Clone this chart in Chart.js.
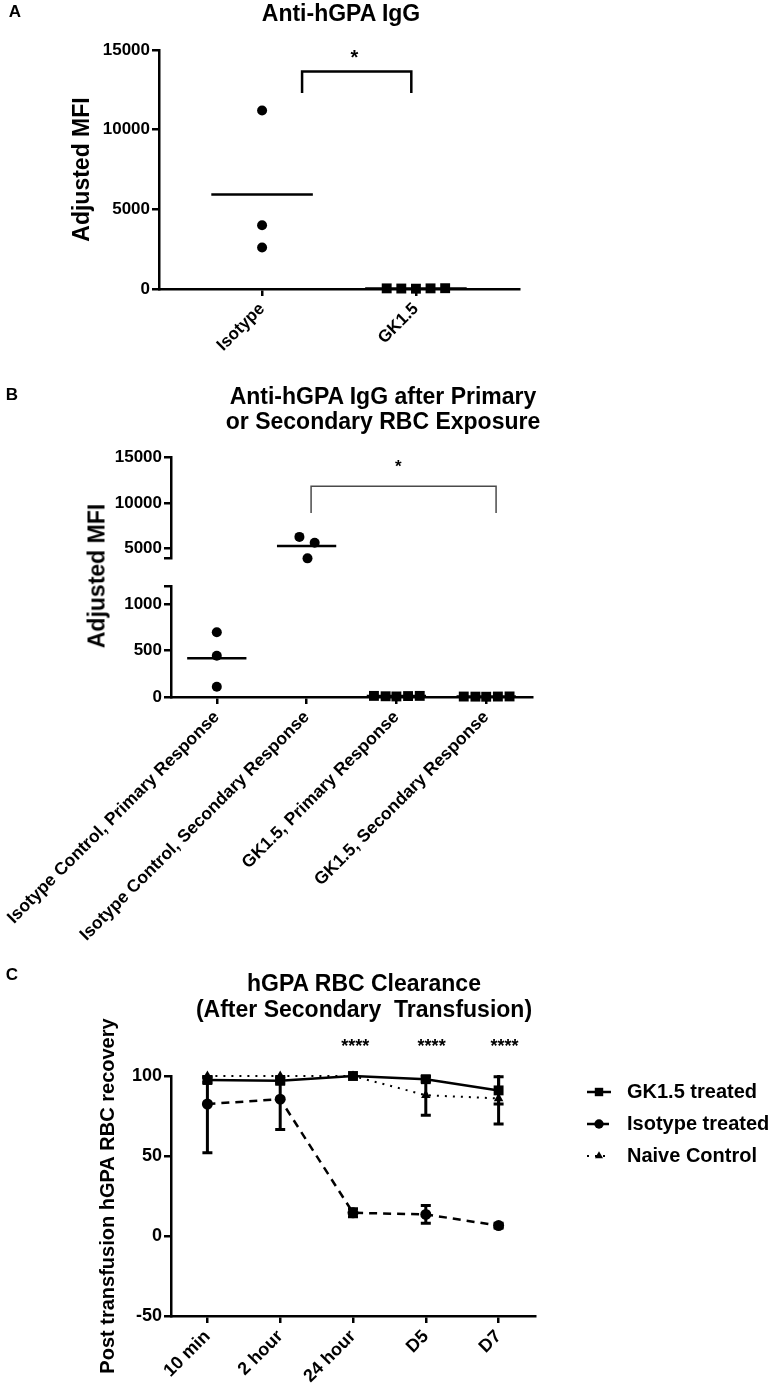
<!DOCTYPE html>
<html>
<head>
<meta charset="utf-8">
<script src="https://cdn.jsdelivr.net/npm/chart.js@4.4.1/dist/chart.umd.min.js"></script>
<style>
  html, body { margin: 0; padding: 0; background: #fff; }
  body { width: 769px; height: 1392px; position: relative; overflow: hidden; }
  canvas { position: absolute; left: 0; }
  .t {
    position: absolute;
    font-family: 'Liberation Sans', Arial, Helvetica, sans-serif;
    font-weight: bold;
    color: #000;
    white-space: pre;
    text-align: center;
    transform: translate(-50%, -50%);
  }
</style>
</head>
<body>
<canvas id="chartA" width="769" height="390" style="top:0px"></canvas>
<canvas id="chartBHigh" width="769" height="190" style="top:380px"></canvas>
<canvas id="chartBLow" width="769" height="420" style="top:560px"></canvas>
<canvas id="chartC" width="769" height="392" style="top:1000px"></canvas>

<div class="t" style="left:15px;top:12px;font-size:17px">A</div>
<div class="t" style="left:341px;top:13px;font-size:23px">Anti-hGPA IgG</div>

<div class="t" style="left:12px;top:395px;font-size:17px">B</div>
<div class="t" style="left:383px;top:409px;font-size:23px;line-height:25px">Anti-hGPA IgG after Primary
or Secondary RBC Exposure</div>
<div class="t" style="left:97px;top:576px;font-size:23px;transform:translate(-50%,-50%) rotate(-90deg)">Adjusted MFI</div>

<div class="t" style="left:12px;top:975px;font-size:17px">C</div>
<div class="t" style="left:364px;top:996px;font-size:23px;line-height:26px">hGPA RBC Clearance
(After Secondary  Transfusion)</div>

<script>
// ---- Panel A data ----
const catsA = ['Isotype', 'GK1.5'];
const isotypeA = [11200, 4000, 2600];
const gk15A = [40, 30, 20, 40, 50];
const spreadA = [-0.19, -0.095, 0, 0.095, 0.19];
const ticksA = [0, 5000, 10000, 15000];
const bracketA = { from: 0.26, to: 0.97, low: 12300, high: 13650 };
const starsA = [{ x: 0.6, y: 14800, text: '*' }];

// ---- Panel B data ----
const catsB = [
  'Isotype Control, Primary Response',
  'Isotype Control, Secondary Response',
  'GK1.5, Primary Response',
  'GK1.5, Secondary Response'
];
const isoPrimaryB = [700, 445, 110];
const isoSecondaryB = [6280, 5640, 3940];
const gkPrimaryB = [12, 8, 6, 10, 12];
const gkSecondaryB = [5, 4, 3, 5, 6];
const spreadIsoSecB = [-0.08, 0.09, 0.01];
const spreadGkB = [-0.25, -0.12, 0, 0.13, 0.26];
const ticksBHigh = [4000, 5000, 10000, 15000];
const ticksBLow = [0, 500, 1000, 1200];
const bracketB = { from: 1.05, to: 3.11, low: 8900, high: 11800 };
const starsB = [{ x: 2.02, y: 14350, text: '*' }];

// ---- Panel C data ----
const timepoints = ['10 min', '2 hour', '24 hour', 'D5', 'D7'];
const gkMeanC = [97.5, 97, 100, 98, 91];
const gkSdC = [1.5, 1.5, 0.5, 1.5, 8.5];
const isoMeanC = [82.5, 85.5, 14.5, 13.5, 6.5];
const isoSdC = [30.5, 19, 2.5, 5.5, 1.5];
const naiveMeanC = [100, 100, 100, 88, 86];
const naiveSdC = [0.5, 0.5, 0.5, 12.5, 16];
const ticksC = [-50, 0, 50, 100];
const starsC = [
  { x: 2.03, y: 121, text: '****' },
  { x: 3.08, y: 121, text: '****' },
  { x: 4.08, y: 121, text: '****' }
];

const FONT = "'Liberation Sans', Arial, Helvetica, sans-serif";
Chart.defaults.font.family = FONT;
Chart.defaults.font.weight = 'bold';
Chart.defaults.color = '#000';
Chart.defaults.animation = false;
Chart.defaults.plugins.legend.display = false;
Chart.defaults.plugins.tooltip.enabled = false;

function axisLines() {
  return {
    grid: { drawOnChartArea: false, drawTicks: true, tickLength: 7, lineWidth: 2.5, color: '#000' },
    border: { display: true, color: '#000', width: 2.5 }
  };
}

// fixed size for the x axis; long rotated labels must not push the plot area
function fixHeight(height) {
  return s => {
    s.height = height;
    s.paddingLeft = 0;
    s.paddingRight = 0;
  };
}

function yScale(min, max, values, width, size, hidden) {
  return Object.assign({
    type: 'linear',
    min: min,
    max: max,
    afterBuildTicks: s => { s.ticks = values.map(v => ({ value: v })); },
    afterFit: s => { s.width = width; },
    ticks: {
      padding: 2,
      font: { size: size, weight: 'bold' },
      callback: v => (hidden && hidden.includes(v)) ? '' : String(v)
    }
  }, axisLines());
}

function xLinear(min, max, labels, height, size) {
  return Object.assign({
    type: 'linear',
    min: min,
    max: max,
    afterBuildTicks: s => { s.ticks = labels.map((l, i) => ({ value: i })); },
    afterFit: fixHeight(height),
    ticks: {
      autoSkip: false,
      minRotation: 45,
      maxRotation: 45,
      padding: 3,
      font: { size: size, weight: 'bold' },
      callback: v => labels[v]
    }
  }, axisLines());
}

function meanOf(values) {
  return values.reduce((a, b) => a + b, 0) / values.length;
}

function dots(cat, values, spread, style, radius, clip) {
  return {
    data: values.map((v, i) => ({ x: cat + (spread ? spread[i] : 0), y: v })),
    pointStyle: style,
    pointRadius: radius,
    pointBackgroundColor: '#000',
    pointBorderWidth: 0,
    showLine: false,
    clip: clip
  };
}

function meanLine(cat, values, half, clip) {
  const m = meanOf(values);
  return {
    data: [{ x: cat - half, y: m }, { x: cat + half, y: m }],
    showLine: true,
    borderColor: '#000',
    borderWidth: 2.5,
    pointRadius: 0,
    clip: clip
  };
}

function bracket(b, color, width, clip) {
  return {
    data: [
      { x: b.from, y: b.low }, { x: b.from, y: b.high },
      { x: b.to, y: b.high }, { x: b.to, y: b.low }
    ],
    showLine: true,
    borderColor: color,
    borderWidth: width,
    pointRadius: 0,
    clip: clip
  };
}

function starsPlugin(items, size) {
  return {
    id: 'stars',
    afterDatasetsDraw(chart) {
      const { ctx, scales: { x, y } } = chart;
      ctx.save();
      ctx.fillStyle = '#000';
      ctx.font = 'bold ' + size + 'px ' + FONT;
      ctx.textAlign = 'center';
      ctx.textBaseline = 'alphabetic';
      items.forEach(it => {
        ctx.fillText(it.text, x.getPixelForValue(it.x), y.getPixelForValue(it.y) + size * 0.55);
      });
      ctx.restore();
    }
  };
}

// ---- Panel A ----
new Chart(document.getElementById('chartA'), {
  type: 'scatter',
  data: {
    datasets: [
      dots(0, isotypeA, null, 'circle', 5, false),
      dots(1, gk15A, spreadA, 'rect', 7, false),
      meanLine(0, isotypeA, 0.33, false),
      meanLine(1, gk15A, 0.33, false),
      bracket(bracketA, '#000', 2.5, false)
    ]
  },
  options: {
    responsive: false,
    layout: { padding: { left: 0, top: 50, right: 250, bottom: 0 } },
    scales: {
      x: xLinear(-0.67, 1.67, catsA, 101, 17),
      y: Object.assign(yScale(0, 15000, ticksA, 159, 17), {
        title: { display: true, text: 'Adjusted MFI', font: { size: 23, weight: 'bold' }, padding: { top: 69, bottom: 0 } }
      })
    }
  },
  plugins: [starsPlugin(starsA, 20)]
});

// ---- Panel B (broken y axis: two stacked charts) ----
function datasetsB() {
  const clip = { top: 10, bottom: 10, left: false, right: false };
  return [
    dots(0, isoPrimaryB, null, 'circle', 5, clip),
    dots(1, isoSecondaryB, spreadIsoSecB, 'circle', 5, clip),
    dots(2, gkPrimaryB, spreadGkB, 'rect', 7, clip),
    dots(3, gkSecondaryB, spreadGkB, 'rect', 7, clip),
    meanLine(0, isoPrimaryB, 0.33, clip),
    meanLine(1, isoSecondaryB, 0.33, clip),
    meanLine(2, gkPrimaryB, 0.33, clip),
    meanLine(3, gkSecondaryB, 0.33, clip),
    bracket(bracketB, '#4a4a4a', 1.5, clip)
  ];
}

new Chart(document.getElementById('chartBHigh'), {
  type: 'scatter',
  data: { datasets: datasetsB() },
  options: {
    responsive: false,
    layout: { padding: { left: 0, top: 77, right: 237, bottom: 10 } },
    scales: {
      x: { type: 'linear', min: -0.51, max: 3.51, display: false },
      y: yScale(4000, 15000, ticksBHigh, 171, 17, [4000])
    }
  },
  plugins: [starsPlugin(starsB, 17)]
});

new Chart(document.getElementById('chartBLow'), {
  type: 'scatter',
  data: { datasets: datasetsB() },
  options: {
    responsive: false,
    layout: { padding: { left: 0, top: 26, right: 237, bottom: 0 } },
    scales: {
      x: xLinear(-0.51, 3.51, catsB, 283, 17.5),
      y: yScale(0, 1200, ticksBLow, 171, 17, [1200])
    }
  }
});

// ---- Panel C ----
const errorBarPlugin = {
  id: 'errorBars',
  beforeDatasetsDraw(chart) {
    const { ctx, chartArea, scales: { x, y } } = chart;
    ctx.save();
    ctx.beginPath();
    ctx.rect(chartArea.left, chartArea.top - 1, chartArea.right - chartArea.left, chartArea.bottom - chartArea.top + 2);
    ctx.clip();
    ctx.strokeStyle = '#000';
    ctx.lineWidth = 3;
    chart.data.datasets.forEach(ds => {
      ds.data.forEach((m, i) => {
        const px = x.getPixelForValue(i);
        const top = y.getPixelForValue(m + ds.sd[i]);
        const bot = y.getPixelForValue(m - ds.sd[i]);
        ctx.beginPath();
        ctx.moveTo(px, top); ctx.lineTo(px, bot);
        ctx.moveTo(px - 5, top); ctx.lineTo(px + 5, top);
        ctx.moveTo(px - 5, bot); ctx.lineTo(px + 5, bot);
        ctx.stroke();
      });
    });
    ctx.restore();
  }
};

function drawMarker(ctx, style, r, x, y) {
  if (Chart.helpers && Chart.helpers.drawPoint) {
    Chart.helpers.drawPoint(ctx, { pointStyle: style, radius: r, rotation: 0, borderWidth: 0 }, x, y);
  } else {
    ctx.beginPath();
    ctx.arc(x, y, r, 0, Math.PI * 2);
    ctx.fill();
  }
}

const sideLegend = {
  id: 'sideLegend',
  afterDraw(chart) {
    const { ctx, chartArea } = chart;
    ctx.save();
    chart.data.datasets.forEach((ds, i) => {
      const yy = chartArea.top + 16 + i * 32;
      const x0 = chartArea.right + 52;
      const x1 = chartArea.right + 76;
      ctx.strokeStyle = '#000';
      ctx.fillStyle = '#000';
      ctx.lineWidth = ds.borderWidth;
      ctx.setLineDash(ds.borderDash || []);
      ctx.beginPath();
      ctx.moveTo(x0, yy);
      ctx.lineTo(x1, yy);
      ctx.stroke();
      ctx.setLineDash([]);
      drawMarker(ctx, ds.pointStyle, ds.pointRadius * 0.85, (x0 + x1) / 2, yy);
      ctx.font = 'bold 20px ' + FONT;
      ctx.textAlign = 'left';
      ctx.textBaseline = 'middle';
      ctx.fillText(ds.label, chartArea.right + 92, yy);
    });
    ctx.restore();
  }
};

new Chart(document.getElementById('chartC'), {
  type: 'line',
  data: {
    labels: timepoints,
    datasets: [
      {
        label: 'GK1.5 treated', data: gkMeanC, sd: gkSdC,
        borderColor: '#000', borderWidth: 2.5, borderDash: [],
        pointStyle: 'rect', pointRadius: 7, pointBackgroundColor: '#000', pointBorderWidth: 0,
        tension: 0, clip: false
      },
      {
        label: 'Isotype treated', data: isoMeanC, sd: isoSdC,
        borderColor: '#000', borderWidth: 2.5, borderDash: [8, 6],
        pointStyle: 'circle', pointRadius: 5.5, pointBackgroundColor: '#000', pointBorderWidth: 0,
        tension: 0, clip: false
      },
      {
        label: 'Naive Control', data: naiveMeanC, sd: naiveSdC,
        borderColor: '#000', borderWidth: 2, borderDash: [2, 6],
        pointStyle: 'triangle', pointRadius: 5.5, pointBackgroundColor: '#000', pointBorderWidth: 0,
        tension: 0, clip: false
      }
    ]
  },
  options: {
    responsive: false,
    layout: { padding: { left: 0, top: 76, right: 234, bottom: 0 } },
    scales: {
      x: Object.assign({
        type: 'category',
        offset: true,
        afterFit: fixHeight(76),
        ticks: { autoSkip: false, minRotation: 45, maxRotation: 45, padding: 3, font: { size: 18, weight: 'bold' } }
      }, axisLines()),
      y: Object.assign(yScale(-50, 100, ticksC, 171, 18), {
        title: { display: true, text: 'Post transfusion hGPA RBC recovery', font: { size: 20, weight: 'bold' }, padding: { top: 96, bottom: 0 } }
      })
    }
  },
  plugins: [errorBarPlugin, starsPlugin(starsC, 18), sideLegend]
});
</script>
</body>
</html>
